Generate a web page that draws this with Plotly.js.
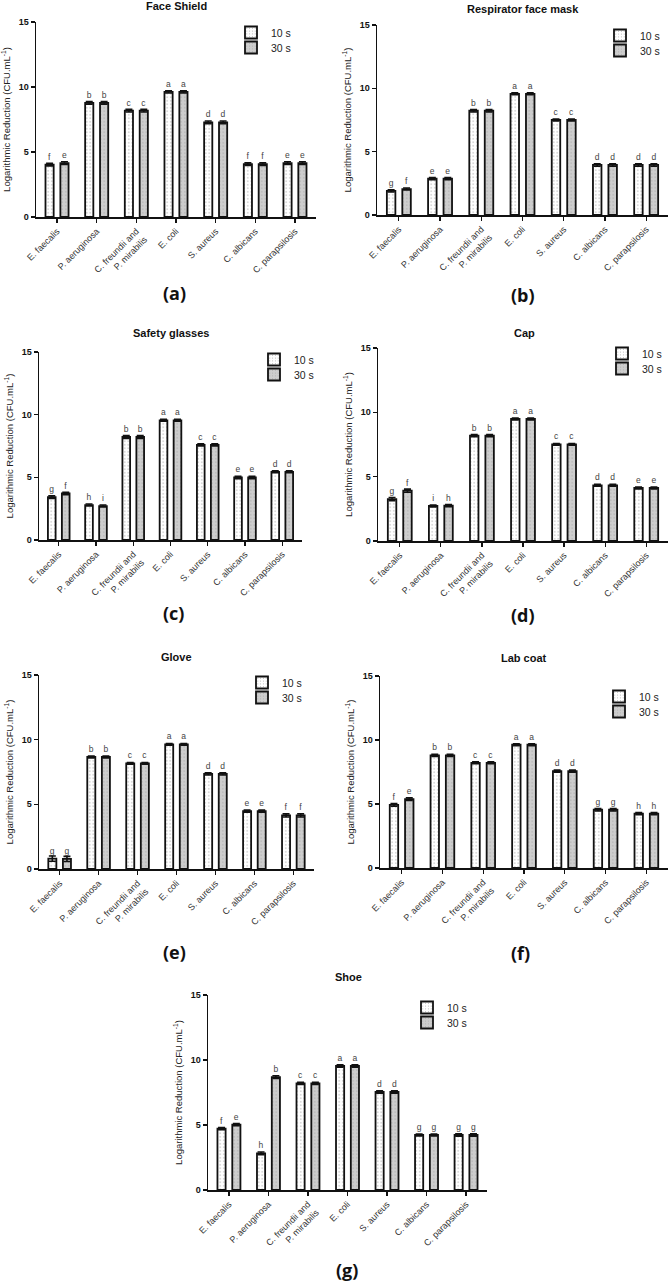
<!DOCTYPE html>
<html>
<head>
<meta charset="utf-8">
<script src="https://cdn.plot.ly/plotly-3.0.1.min.js"></script>
<style>html,body{margin:0;padding:0;background:#fff;}#chart{width:670px;height:1281px;}</style>
</head>
<body>
<div id="chart"></div>
<script>
// ---- data ----
const categories = ["E. faecalis", "P. aeruginosa", "C. freundii and<br>P. mirabilis", "E. coli", "S. aureus", "C. albicans", "C. parapsilosis"];
const seriesNames = ["10 s", "30 s"];
const panelTitles = ["Face Shield", "Respirator face mask", "Safety glasses", "Cap", "Glove", "Lab coat", "Shoe"];
const panelLabels = ["(a)", "(b)", "(c)", "(d)", "(e)", "(f)", "(g)"];
const yTickValues = [0, 5, 10, 15];

const faceShield10 = [4.03, 8.78, 8.18, 9.62, 7.28, 4.06, 4.15];
const faceShield30 = [4.15, 8.78, 8.18, 9.62, 7.28, 4.06, 4.15];
const faceShieldErr = [0.1, 0.1, 0.1, 0.08, 0.1, 0.1, 0.1];
const faceShieldLetters10 = ["f", "b", "c", "a", "d", "f", "e"];
const faceShieldLetters30 = ["e", "b", "c", "a", "d", "f", "e"];

const respirator10 = [1.9, 2.87, 8.23, 9.57, 7.5, 3.95, 3.95];
const respirator30 = [2.05, 2.87, 8.23, 9.57, 7.5, 3.95, 3.95];
const respiratorErr = [0.08, 0.08, 0.1, 0.08, 0.08, 0.1, 0.1];
const respiratorLetters10 = ["g", "e", "b", "a", "c", "d", "d"];
const respiratorLetters30 = ["f", "e", "b", "a", "c", "d", "d"];

const glasses10 = [3.42, 2.79, 8.22, 9.55, 7.59, 4.99, 5.44];
const glasses30 = [3.71, 2.71, 8.22, 9.55, 7.59, 4.99, 5.44];
const glassesErr = [0.1, 0.08, 0.12, 0.08, 0.08, 0.1, 0.08];
const glassesLetters10 = ["g", "h", "b", "a", "c", "e", "d"];
const glassesLetters30 = ["f", "i", "b", "a", "c", "e", "d"];

const cap10 = [3.26, 2.72, 8.19, 9.48, 7.51, 4.33, 4.12];
const cap30 = [3.91, 2.75, 8.19, 9.48, 7.51, 4.33, 4.12];
const capErr = [0.12, 0.08, 0.08, 0.08, 0.06, 0.08, 0.08];
const capLetters10 = ["g", "i", "b", "a", "c", "d", "e"];
const capLetters30 = ["f", "h", "b", "a", "c", "d", "e"];

const glove10 = [0.8, 8.66, 8.17, 9.64, 7.35, 4.47, 4.14];
const glove30 = [0.78, 8.66, 8.17, 9.64, 7.35, 4.47, 4.14];
const gloveErr = [0.2, 0.08, 0.06, 0.06, 0.08, 0.08, 0.12];
const gloveLetters10 = ["g", "b", "c", "a", "d", "e", "f"];
const gloveLetters30 = ["g", "b", "c", "a", "d", "e", "f"];

const labCoat10 = [4.93, 8.8, 8.22, 9.63, 7.57, 4.55, 4.25];
const labCoat30 = [5.38, 8.8, 8.22, 9.63, 7.57, 4.55, 4.25];
const labCoatErr = [0.1, 0.08, 0.08, 0.08, 0.08, 0.1, 0.08];
const labCoatLetters10 = ["f", "b", "c", "a", "d", "g", "h"];
const labCoatLetters30 = ["e", "b", "c", "a", "d", "g", "h"];

const shoe10 = [4.72, 2.82, 8.2, 9.54, 7.54, 4.23, 4.23];
const shoe30 = [5.03, 8.69, 8.2, 9.54, 7.54, 4.23, 4.23];
const shoeErr = [0.08, 0.1, 0.08, 0.1, 0.1, 0.08, 0.1];
const shoeLetters10 = ["f", "h", "c", "a", "d", "g", "g"];
const shoeLetters30 = ["e", "b", "c", "a", "d", "g", "g"];

const panelData = [
  [faceShield10, faceShield30, faceShieldErr, faceShieldLetters10, faceShieldLetters30],
  [respirator10, respirator30, respiratorErr, respiratorLetters10, respiratorLetters30],
  [glasses10, glasses30, glassesErr, glassesLetters10, glassesLetters30],
  [cap10, cap30, capErr, capLetters10, capLetters30],
  [glove10, glove30, gloveErr, gloveLetters10, gloveLetters30],
  [labCoat10, labCoat30, labCoatErr, labCoatLetters10, labCoatLetters30],
  [shoe10, shoe30, shoeErr, shoeLetters10, shoeLetters30]
];

// ---- layout geometry (pixels in the 670x1281 page) ----
const W = 670, H = 1281;
const boxes = [ // [left, right, top, bottom] of each plot area
  [36, 316, 22, 217],
  [377, 668, 25, 215],
  [39, 302, 352, 540],
  [378, 668, 348, 541],
  [39, 314, 675, 869],
  [380, 668, 676, 868],
  [208, 487, 995, 1190]
];
const titlePos = [[176, 6], [523, 9], [171, 333], [524, 333], [176, 657], [524, 658], [348, 977]];
const labelPos = [[175, 293], [523, 295], [173, 613], [523, 615], [175, 952], [520, 953], [347, 1270]];
// [left, top of first legend item]
const legendPos = [[231, 18], [600, 21], [254, 345], [602, 339], [242, 668], [599, 682], [407, 993]];
const legendStep = 15;

const FONT = "Liberation Sans, Arial, sans-serif";
const px = v => v / W, py = v => 1 - v / H;

const traces = [];
const layout = {
  width: W, height: H,
  margin: {l: 0, r: 0, t: 0, b: 0},
  paper_bgcolor: "#fff", plot_bgcolor: "#fff",
  barmode: "group", bargap: 0.25, bargroupgap: 0.45,
  showlegend: true,
  font: {family: FONT, color: "#222"},
  annotations: []
};

panelData.forEach((pd, i) => {
  const n = i + 1;
  const xa = n === 1 ? "x" : "x" + n, ya = n === 1 ? "y" : "y" + n;
  const lgA = "legend" + (2 * i + 2);
  const lgB = "legend" + (2 * i + 3);
  const [v10, v30, err, l10, l30] = pd;
  const mk = (vals, letters, name, bg, lg) => ({
    type: "bar", x: categories, y: vals, name: name,
    xaxis: xa, yaxis: ya, legend: lg, showlegend: true,
    text: letters, textposition: "outside", textangle: 0, constraintext: "none", cliponaxis: false,
    textfont: {family: FONT, size: 8.5, color: "#444"},
    marker: {color: bg, line: {color: "#111", width: 1.8},
      pattern: {shape: ".", fillmode: "replace", bgcolor: bg, fgcolor: "#a8a8a8", size: 3.5, solidity: 0.12}},
    error_y: {type: "data", array: err, visible: true, color: "#111", thickness: 1.6, width: 3.5},
    hoverinfo: "skip"
  });
  traces.push(mk(v10, l10, seriesNames[0], "#ffffff", lgA));
  traces.push(mk(v30, l30, seriesNames[1], "#cdcdcd", lgB));

  const b = boxes[i];
  layout["xaxis" + (n === 1 ? "" : n)] = {
    domain: [px(b[0]), px(b[1])], anchor: ya, type: "category",
    range: [-0.53, 6.53], showline: true, linecolor: "#111", linewidth: 1.5,
    ticks: "outside", ticklen: 4, tickwidth: 1.2, tickcolor: "#111",
    tickangle: -45, tickfont: {family: FONT, size: 9, color: "#333"},
    showgrid: false, zeroline: false, fixedrange: true
  };
  layout["yaxis" + (n === 1 ? "" : n)] = {
    domain: [py(b[3]), py(b[2])], anchor: xa,
    range: [0, 15], tickvals: yTickValues, showline: true, linecolor: "#111", linewidth: 1.5,
    ticks: "outside", ticklen: 4, tickwidth: 1.5, tickcolor: "#111",
    tickfont: {family: FONT, size: 9, color: "#111", weight: "bold"},
    title: {text: "Logarithmic Reduction (CFU.mL<sup>-1</sup>)", font: {family: FONT, size: 9.5, color: "#222"}, standoff: 6},
    showgrid: false, zeroline: false, fixedrange: true
  };
  const lgStyle = top => ({
    x: px(legendPos[i][0]), y: py(top), xanchor: "left", yanchor: "top",
    bgcolor: "rgba(0,0,0,0)", borderwidth: 0, itemwidth: 30, visible: true,
    font: {family: FONT, size: 10.5, color: "#222"}, tracegroupgap: 0
  });
  layout[lgA] = lgStyle(legendPos[i][1]);
  layout[lgB] = lgStyle(legendPos[i][1] + legendStep);
  layout.annotations.push({
    xref: "paper", yref: "paper", x: px(titlePos[i][0]), y: py(titlePos[i][1]),
    xanchor: "center", yanchor: "middle", showarrow: false, text: "<b>" + panelTitles[i] + "</b>",
    font: {family: FONT, size: 11, color: "#111"}
  });
  layout.annotations.push({
    xref: "paper", yref: "paper", x: px(labelPos[i][0]), y: py(labelPos[i][1]),
    xanchor: "center", yanchor: "middle", showarrow: false, text: "<b>" + panelLabels[i] + "</b>",
    font: {family: "Open Sans, sans-serif", size: 18, color: "#111"}
  });
});

Plotly.newPlot("chart", traces, layout, {displayModeBar: false, staticPlot: true});
</script>
</body>
</html>
